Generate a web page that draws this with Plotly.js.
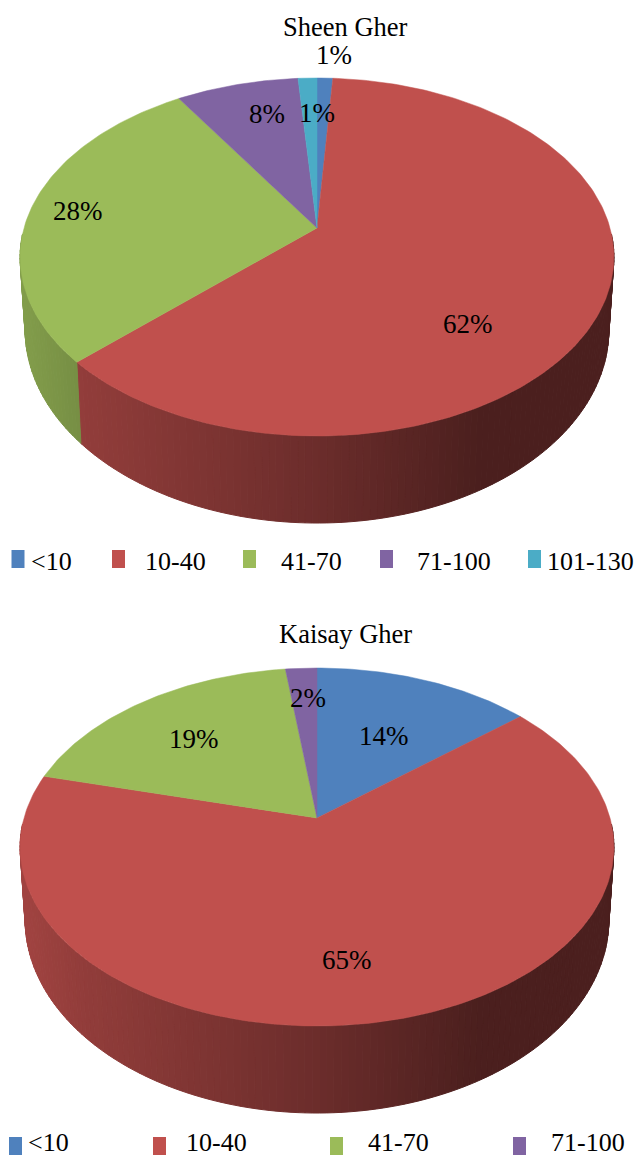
<!DOCTYPE html>
<html><head><meta charset="utf-8">
<script src="https://cdn.plot.ly/plotly-3.0.1.min.js"></script>
<style>html,body{margin:0;padding:0;background:#fff}#c{width:637px;height:1158px}</style>
</head><body><div id="c"></div>
<script>
// Data
const categories = ['<10','10-40','41-70','71-100','101-130'];
const colors = ['#4F81BD','#C0504D','#9BBB59','#8064A2','#4BACC6'];
const sheenValues = [1.0,62,28,7.8,1.2];
const kaisayValues = [13.9,65.1,19,2];
const sheenLabelPos = [[334,55],[468,324],[78,211],[267,114],[317,113]];
const kaisayLabelPos = [[384,736],[347,960],[194,739],[308,698]];
const sheenKeyX = [[11.5,31],[112,145],[243,281],[380,417],[528,547]];
const kaisayKeyX = [[9,28],[153,186],[330,368],[513,551]];

// Projection of the tilted disc
const CX=317, K=0.162, A=293, B=174.3;
const BOT_SX=0.983, BOT_SY=1.08, BOT_D=70.4;
function topPt(cy,deg){const r=deg*Math.PI/180,X=Math.sin(r),Y=Math.cos(r),w=1+K*Y;return [CX+A*X/w,cy-B*Y/w];}
function botPt(cy,deg){const r=deg*Math.PI/180,X=Math.sin(r),Y=Math.cos(r),w=1+K*Y;return [CX+BOT_SX*A*X/w,cy+BOT_D-BOT_SY*B*Y/w];}
function rgb(c){return [1,3,5].map(i=>parseInt(c.substr(i,2),16));}
const shadeX=[20,80,317,480,640], shadeV=[.84,.76,.56,.39,.39];
function shade(c,x){let v=shadeV[shadeV.length-1];
  for(let i=0;i<shadeX.length-1;i++){if(x>=shadeX[i]&&x<=shadeX[i+1]){v=shadeV[i]+(shadeV[i+1]-shadeV[i])*(x-shadeX[i])/(shadeX[i+1]-shadeX[i]);break;}}
  if(x<shadeX[0])v=shadeV[0];
  return 'rgb('+rgb(c).map(u=>Math.round(u*v)).join(',')+')';}

const traces=[], annotations=[];
function poly(xs,ys,color,name,lw){traces.push({type:'scatter',mode:'lines',x:xs,y:ys,fill:'toself',fillcolor:color,
  line:{color:color,width:lw===undefined?1:lw},name:name,showlegend:false,hoverinfo:'skip',cliponaxis:false});}
function label(t,x,y,size){annotations.push({text:t,x:x,y:y,xref:'x',yref:'y',showarrow:false,xanchor:'center',yanchor:'middle',
  font:{family:'"Liberation Serif",serif',size:size,color:'#000'}});}

function drawPie(title,titleY,cy,values,labelPos,keyX,keyY,keyTextY){
  const total=values.reduce((a,b)=>a+b,0);
  let cum=0; const spans=values.map(v=>{const s=[cum,cum+v/total*360];cum=s[1];return s;});
  // rim
  const RIM0=92,RIM1=268,STEP=1.2;
  spans.forEach((s,i)=>{
    const a0=Math.max(s[0],RIM0),a1=Math.min(s[1],RIM1);
    for(let a=a0;a<a1;a+=STEP){
      const b=Math.min(a+STEP,a1);
      const p=[topPt(cy,a),topPt(cy,b),botPt(cy,b),botPt(cy,a),topPt(cy,a)];
      poly(p.map(q=>q[0]),p.map(q=>q[1]),shade(colors[i],(p[0][0]+p[1][0])/2),categories[i]+' side');
    }
  });
  // top face
  spans.forEach((s,i)=>{
    const xs=[CX],ys=[cy];
    const n=Math.max(2,Math.ceil(s[1]-s[0]));
    for(let j=0;j<=n;j++){const q=topPt(cy,s[0]+(s[1]-s[0])*j/n);xs.push(q[0]);ys.push(q[1]);}
    xs.push(CX);ys.push(cy);
    poly(xs,ys,colors[i],categories[i],0.5);
  });
  // labels
  values.forEach((v,i)=>label(Math.round(v)+'%',labelPos[i][0],labelPos[i][1],27));
  label(title,345,titleY,26.5);
  // key
  values.forEach((v,i)=>{
    const x=keyX[i][0],W=13,H=18;
    poly([x,x+W,x+W,x,x],[keyY-H/2,keyY-H/2,keyY+H/2,keyY+H/2,keyY-H/2],colors[i],categories[i]+' key',0);
    annotations.push({text:categories[i],x:keyX[i][1],y:keyTextY,xref:'x',yref:'y',showarrow:false,xanchor:'left',yanchor:'middle',xshift:-2,
      font:{family:'"Liberation Serif",serif',size:26,color:'#000'}});
  });
}
drawPie('Sheen Gher',27,228,sheenValues,sheenLabelPos,sheenKeyX,559,561);
drawPie('Kaisay Gher',634,818,kaisayValues,kaisayLabelPos,kaisayKeyX,1146,1142);

Plotly.newPlot('c',traces,{
  width:637,height:1158,margin:{l:0,r:0,t:0,b:0},paper_bgcolor:'#fff',plot_bgcolor:'#fff',showlegend:false,
  xaxis:{range:[0,637],visible:false,fixedrange:true},
  yaxis:{range:[1158,0],visible:false,fixedrange:true},
  annotations:annotations
},{displayModeBar:false,staticPlot:true});
</script></body></html>
